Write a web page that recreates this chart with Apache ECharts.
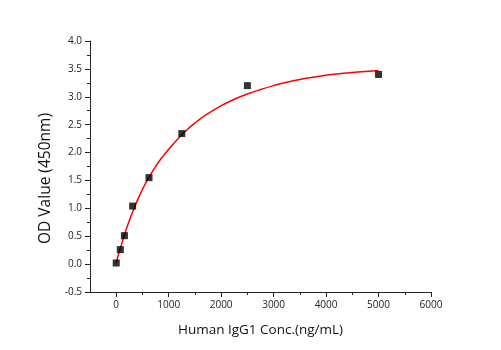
<!DOCTYPE html>
<html><head><meta charset="utf-8">
<script src="https://cdn.jsdelivr.net/npm/echarts@6/dist/echarts.min.js"></script>
<style>html,body{margin:0;padding:0;background:#fff}#c{width:501px;height:350px}</style>
</head><body><div id="c"></div>
<script>
// Measured points
const concentrations = [0, 78.125, 156.25, 312.5, 625, 1250, 2500, 5000];
const odValues = [0.02, 0.26, 0.51, 1.04, 1.55, 2.34, 3.20, 3.40];
// Fitted curve
const fitX = [0, 125, 250, 375, 500, 625, 750, 875, 1000, 1250, 1500, 1750, 2000, 2250, 2500, 2750, 3000, 3250, 3500, 3750, 4000, 4250, 4500, 4750, 5000];
const fitY = [0.03, 0.43, 0.78, 1.08, 1.34, 1.56, 1.75, 1.915, 2.06, 2.32, 2.53, 2.70, 2.84, 2.955, 3.05, 3.13, 3.20, 3.26, 3.31, 3.35, 3.385, 3.415, 3.435, 3.455, 3.47];
const xMajorTicks = [0, 1000, 2000, 3000, 4000, 5000, 6000];
const xMinorTicks = [500, 1500, 2500, 3500, 4500, 5500];

const font = '"Open Sans", sans-serif';
const chart = echarts.init(document.getElementById('c'));
chart.setOption({
  animation: false,
  grid: {left: 90, right: 70, top: 41, bottom: 58},
  xAxis: [{
    type: 'value', min: -500, max: 6000, interval: 500,
    name: 'Human IgG1 Conc.(ng/mL)', nameLocation: 'middle', nameGap: 31,
    nameTextStyle: {fontFamily: font, fontSize: 13.5, color: '#111'},
    axisLine: {show: true, onZero: false, lineStyle: {color: '#222', width: 1}},
    axisTick: {show: true, inside: false, length: 5, customValues: xMajorTicks, lineStyle: {color: '#222'}},
    axisLabel: {customValues: xMajorTicks, fontFamily: font, fontSize: 10, color: '#222', margin: 8,
      formatter: v => String(v)},
    splitLine: {show: false}
  }, {
    type: 'value', min: -500, max: 6000, interval: 500, position: 'bottom',
    axisLine: {show: false, onZero: false},
    axisTick: {show: true, length: 3, customValues: xMinorTicks, lineStyle: {color: '#222'}},
    axisLabel: {show: false},
    splitLine: {show: false}
  }],
  yAxis: {
    type: 'value', min: -0.5, max: 4.0, interval: 0.5,
    name: 'OD Value (450nm)', nameLocation: 'middle', nameGap: 35,
    nameTextStyle: {fontFamily: font, fontSize: 15.5, color: '#111', padding: [0, 24, 0, 0]},
    axisLine: {show: true, onZero: false, lineStyle: {color: '#222', width: 1}},
    axisTick: {show: true, length: 5, lineStyle: {color: '#222'}},
    minorTick: {show: true, splitNumber: 2, length: 3, lineStyle: {color: '#222'}},
    axisLabel: {fontFamily: font, fontSize: 10, color: '#222', margin: 8,
      formatter: v => v.toFixed(1)},
    splitLine: {show: false}
  },
  series: [{
    type: 'line', smooth: true, showSymbol: false, z: 2,
    data: fitX.map((x, i) => [x, fitY[i]]),
    lineStyle: {color: '#ff0000', width: 1.5}
  }, {
    type: 'scatter', symbol: 'rect', symbolSize: 7, z: 3,
    data: concentrations.map((x, i) => [x, odValues[i]]),
    itemStyle: {color: '#000'}
  }]
});
</script></body></html>
